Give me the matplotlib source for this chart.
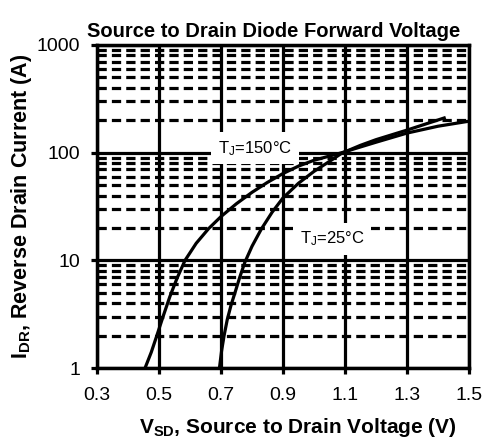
import matplotlib
matplotlib.use("Agg")
import matplotlib.pyplot as plt
from matplotlib.ticker import FixedLocator, FuncFormatter

plt.rcParams['font.family'] = ['Liberation Sans', 'DejaVu Sans']
plt.rcParams['mathtext.fontset'] = 'custom'
plt.rcParams['mathtext.rm'] = 'Liberation Sans'
plt.rcParams['mathtext.bf'] = 'Liberation Sans:bold'
plt.rcParams['mathtext.default'] = 'regular'

# ── Data ──────────────────────────────────────────────
v_150 = [0.455, 0.475, 0.493, 0.513, 0.535, 0.558, 0.584, 0.62, 0.66,
         0.70, 0.75, 0.80, 0.85, 0.90, 0.95, 1.0, 1.05, 1.09, 1.15, 1.2,
         1.3, 1.4, 1.5]
i_150 = [1, 1.4, 2, 3, 4.6, 6.8, 10, 14.4, 19.7,
         25.5, 33.6, 42.8, 53, 64, 75, 85, 93, 100, 113, 125,
         152, 176, 196]

v_25 = [0.695, 0.702, 0.71, 0.72, 0.732, 0.745, 0.76, 0.777, 0.80, 0.83,
        0.865, 0.90, 0.95, 1.0, 1.05, 1.09, 1.15, 1.2, 1.3, 1.42]
i_25 = [1, 1.45, 2.0, 2.8, 3.8, 5.0, 6.9, 9.6, 13.5, 19.5,
        28, 38, 52, 67, 83, 99, 117, 132, 162, 210]

x_ticks = [0.3, 0.5, 0.7, 0.9, 1.1, 1.3, 1.5]
y_ticks = [1, 10, 100, 1000]
y_minor = [m * d for d in (1, 10, 100) for m in range(2, 10)]
# ───────────────────────────────────────────────────────

fig = plt.figure(figsize=(4.86, 4.41), dpi=100)
ax = fig.add_axes([0.1996, 0.1655, 0.7654, 0.7325])

ax.set_yscale('log')
ax.set_xlim(0.3, 1.5)
ax.set_ylim(1, 1000)

ax.xaxis.set_major_locator(FixedLocator(x_ticks))
ax.yaxis.set_major_locator(FixedLocator(y_ticks))
ax.yaxis.set_minor_locator(FixedLocator(y_minor))
ax.xaxis.set_major_formatter(FuncFormatter(lambda v, p: f"{v:.1f}"))
ax.yaxis.set_major_formatter(FuncFormatter(lambda v, p: f"{int(v)}"))
ax.yaxis.set_minor_formatter(FuncFormatter(lambda v, p: ""))

# grid: solid majors, dashed minors on y
ax.grid(True, which='major', axis='both', color='black', lw=2.3, ls='-')
ax.grid(True, which='minor', axis='y', color='black', lw=2.3,
        ls=(0, (2.9, 1.6)))
ax.set_axisbelow(True)

ax.plot(v_150, i_150, color='black', lw=2.3, zorder=3)
ax.plot(v_25, i_25, color='black', lw=2.3, zorder=3)

box = dict(boxstyle='square,pad=0.4', facecolor='white', edgecolor='none')
ax.text(0.81, 110, r'T$_J$=150°C', fontsize=12, ha='center', va='center',
        bbox=box, zorder=4)
ax.text(1.058, 15.8, r'T$_J$=25°C', fontsize=12, ha='center', va='center',
        bbox=box, zorder=4)

for s in ax.spines.values():
    s.set_linewidth(2.5)
ax.tick_params(which='major', length=4, width=2.3, labelsize=14, pad=8)
ax.tick_params(axis='x', pad=10)
ax.tick_params(which='minor', length=0)

ax.set_title('Source to Drain Diode Forward Voltage', fontsize=14.5,
             fontweight='bold', x=0.475, pad=6)
ax.set_xlabel(r'$\mathbf{V_{SD}}$, Source to Drain Voltage (V)',
              fontsize=15, fontweight='bold')
ax.xaxis.set_label_coords(0.54, -0.148)
ax.set_ylabel(r'$\mathbf{I_{DR}}$, Reverse Drain Current (A)',
              fontsize=15.5, fontweight='bold', labelpad=2)

fig.savefig('out.png', dpi=100)
